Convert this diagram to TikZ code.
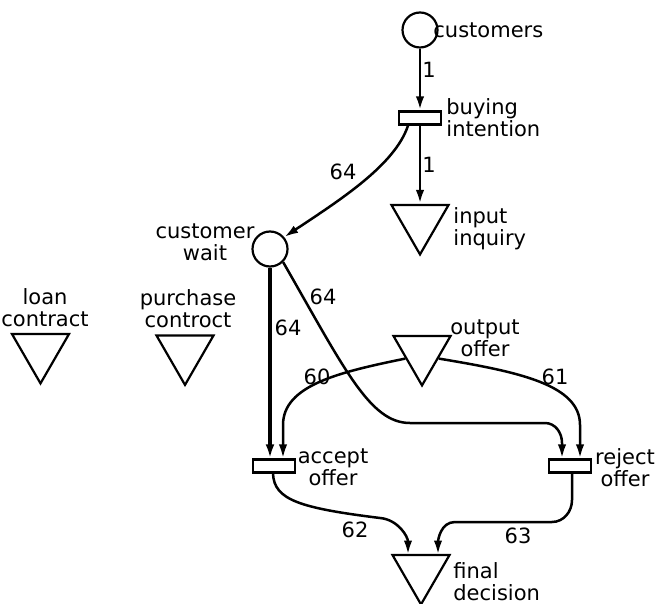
\documentclass[tikz,border=0pt]{standalone}
\usepackage{fontspec}
\setmainfont{DejaVu Sans}
\usepackage{tikz}
\usetikzlibrary{shapes.geometric,arrows.meta,positioning,calc}
\tikzset{
  arc/.style={-{Latex[length=7pt,width=4.2pt]},line width=1.25pt},
  heavyarc/.style={-{Latex[length=7pt,width=4.4pt]},line width=1.7pt},
}

\begin{document}
\begin{tikzpicture}[x=0.5pt,y=-0.5pt,
  place/.style={circle,draw,line width=1.1pt,minimum size=17.5pt,inner sep=0pt},
  trans/.style={rectangle,draw,line width=1.1pt,minimum width=21pt,
    minimum height=6.5pt,inner sep=0pt},
  store/.style={regular polygon,regular polygon sides=3,shape border rotate=180,
    draw,line width=1.1pt,minimum size=32.9pt,inner sep=0pt},
  lbl/.style={font=\fontsize{10.5}{11}\selectfont,align=center,inner sep=0pt},
  wt/.style={font=\fontsize{10.5}{11}\selectfont,inner sep=0pt}]

  \useasboundingbox (0,0) rectangle (656,603);

  \node[place] (cust) at (420,30) {};
  \node[trans] (buy)  at (420,118) {};
  \node[store] (inq)  at (420,221.5) {};
  \node[place] (wait) at (270,249) {};
  \node[store] (loan) at (40.5,350.5) {};
  \node[store] (purch) at (185,352) {};
  \node[store] (out)  at (422,352.5) {};
  \node[trans] (acc)  at (274,466) {};
  \node[trans] (rej)  at (570,466) {};
  \node[store] (fin)  at (421,571.5) {};

  \node[lbl,anchor=west] (custl) at (433,30) {customers};
  \node[lbl,anchor=west,align=left] (buyl) at (446,118) {buying\\intention};
  \node[lbl,anchor=west,align=left] (inql) at (453,229) {input\\inquiry};
  \node[lbl] (waitl) at (205,242) {customer\\wait};
  \node[lbl] (loanl) at (45,308) {loan\\contract};
  \node[lbl] (purchl) at (188,309) {purchase\\controct};
  \node[lbl] (outl) at (485,338) {output\\offer};
  \node[lbl] (accl) at (333,467) {accept\\offer};
  \node[lbl] (rejl) at (625,468) {reject\\offer};
  \node[lbl,anchor=west,align=left] (finl) at (453,582) {final\\decision};

  \draw[arc,line width=1.4pt] (cust) -- (buy);
  \draw[arc,line width=1.4pt] (buy) -- (inq);
  \draw[arc] ($(buy.south)+(-12,0)$) .. controls (395,165) and (340,200) .. (wait.40);
  \draw[heavyarc] (wait.south) -- (wait.south |- acc.north);
  \draw[arc] (wait.-45) .. controls (345,370) and (370,423) .. (410,423)
    -- (545,423) to[out=0,in=90] (562,443) -- ($(rej.north)+(-8,0)$);
  \draw[arc] (out.200) .. controls (340,372) and (283,385) .. (283,425)
    -- ($(acc.north)+(9,0)$);
  \draw[arc] (out.-20) .. controls (520,372) and (580,385) .. (580,425)
    -- ($(rej.north)+(10,0)$);
  \draw[arc] ($(acc.south)+(-1,0)$) .. controls (274,500) and (300,508) .. (380,518)
    to[out=-5,in=90] ($(fin.center)+(-13,-17)$);
  \draw[arc] ($(rej.south)+(2,0)$) -- (572,500) to[out=-90,in=0] (552,522)
    -- (455,522) to[out=180,in=90] ($(fin.center)+(17,-17)$);

  \node[wt] (w1) at (429,70) {1};
  \node[wt] (w2) at (429,165) {1};
  \node[wt] (w3) at (343,172) {64};
  \node[wt] (w4) at (288,328) {64};
  \node[wt] (w5) at (323,297) {64};
  \node[wt] (w6) at (317,377) {60};
  \node[wt] (w7) at (555,377) {61};
  \node[wt] (w8) at (355,530) {62};
  \node[wt] (w9) at (518,536) {63};
\end{tikzpicture}
\end{document}
